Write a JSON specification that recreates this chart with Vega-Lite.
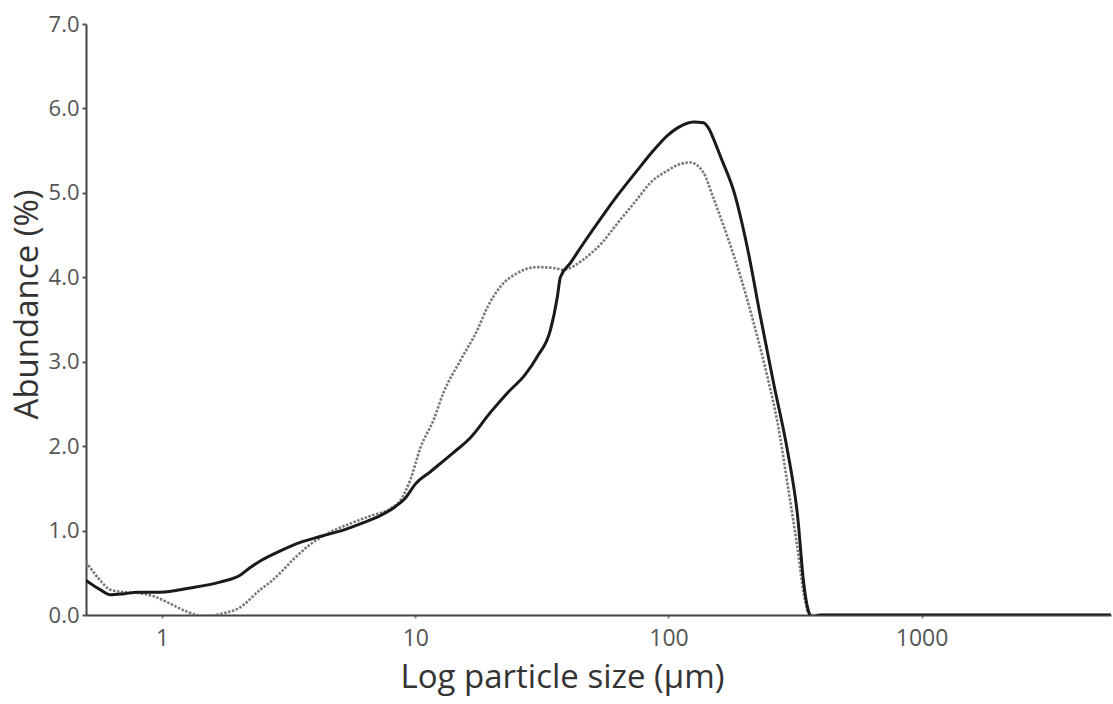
{
  "$schema": "https://vega.github.io/schema/vega-lite/v6.json",
  "width": 1025,
  "height": 591,
  "autosize": {"type": "none"},
  "padding": {"left": 86, "top": 24, "right": 2, "bottom": 89},
  "background": "white",
  "config": {
    "view": {"stroke": null},
    "font": "Open Sans",
    "axis": {"grid": false}
  },
  "datasets": {
    "curves": [
      {"size": 0.5, "abundance": 0.41, "series": "solid"},
      {"size": 0.569, "abundance": 0.30, "series": "solid"},
      {"size": 0.623, "abundance": 0.24, "series": "solid"},
      {"size": 0.70, "abundance": 0.25, "series": "solid"},
      {"size": 0.80, "abundance": 0.27, "series": "solid"},
      {"size": 0.98, "abundance": 0.27, "series": "solid"},
      {"size": 1.29, "abundance": 0.32, "series": "solid"},
      {"size": 1.69, "abundance": 0.39, "series": "solid"},
      {"size": 2.03, "abundance": 0.47, "series": "solid"},
      {"size": 2.2, "abundance": 0.55, "series": "solid"},
      {"size": 2.44, "abundance": 0.64, "series": "solid"},
      {"size": 2.93, "abundance": 0.76, "series": "solid"},
      {"size": 3.51, "abundance": 0.86, "series": "solid"},
      {"size": 4.2, "abundance": 0.93, "series": "solid"},
      {"size": 5.0, "abundance": 0.99, "series": "solid"},
      {"size": 6.06, "abundance": 1.08, "series": "solid"},
      {"size": 7.3, "abundance": 1.18, "series": "solid"},
      {"size": 8.3, "abundance": 1.28, "series": "solid"},
      {"size": 9.1, "abundance": 1.38, "series": "solid"},
      {"size": 10.0, "abundance": 1.55, "series": "solid"},
      {"size": 11.5, "abundance": 1.70, "series": "solid"},
      {"size": 14.1, "abundance": 1.92, "series": "solid"},
      {"size": 16.5, "abundance": 2.10, "series": "solid"},
      {"size": 19.8, "abundance": 2.40, "series": "solid"},
      {"size": 23.1, "abundance": 2.63, "series": "solid"},
      {"size": 27.2, "abundance": 2.85, "series": "solid"},
      {"size": 30.3, "abundance": 3.06, "series": "solid"},
      {"size": 34.2, "abundance": 3.38, "series": "solid"},
      {"size": 36.4, "abundance": 3.77, "series": "solid"},
      {"size": 37.4, "abundance": 4.0, "series": "solid"},
      {"size": 41.0, "abundance": 4.17, "series": "solid"},
      {"size": 46.1, "abundance": 4.40, "series": "solid"},
      {"size": 55.3, "abundance": 4.74, "series": "solid"},
      {"size": 62.9, "abundance": 4.97, "series": "solid"},
      {"size": 75, "abundance": 5.26, "series": "solid"},
      {"size": 84.9, "abundance": 5.46, "series": "solid"},
      {"size": 100, "abundance": 5.69, "series": "solid"},
      {"size": 108.6, "abundance": 5.77, "series": "solid"},
      {"size": 125.6, "abundance": 5.84, "series": "solid"},
      {"size": 137.5, "abundance": 5.83, "series": "solid"},
      {"size": 145, "abundance": 5.75, "series": "solid"},
      {"size": 150.6, "abundance": 5.64, "series": "solid"},
      {"size": 161, "abundance": 5.42, "series": "solid"},
      {"size": 182, "abundance": 5.0, "series": "solid"},
      {"size": 205, "abundance": 4.35, "series": "solid"},
      {"size": 231, "abundance": 3.53, "series": "solid"},
      {"size": 260, "abundance": 2.75, "series": "solid"},
      {"size": 295, "abundance": 1.95, "series": "solid"},
      {"size": 324, "abundance": 1.16, "series": "solid"},
      {"size": 342, "abundance": 0.38, "series": "solid"},
      {"size": 357, "abundance": 0.05, "series": "solid"},
      {"size": 368, "abundance": -0.02, "series": "solid"},
      {"size": 400, "abundance": 0.0, "series": "solid"},
      {"size": 600, "abundance": 0.0, "series": "solid"},
      {"size": 1000, "abundance": 0.0, "series": "solid"},
      {"size": 2000, "abundance": 0.0, "series": "solid"},
      {"size": 5600, "abundance": 0.0, "series": "solid"},
      {"size": 0.5, "abundance": 0.63, "series": "dotted"},
      {"size": 0.569, "abundance": 0.41, "series": "dotted"},
      {"size": 0.623, "abundance": 0.30, "series": "dotted"},
      {"size": 0.72, "abundance": 0.27, "series": "dotted"},
      {"size": 0.80, "abundance": 0.26, "series": "dotted"},
      {"size": 0.93, "abundance": 0.22, "series": "dotted"},
      {"size": 1.05, "abundance": 0.15, "series": "dotted"},
      {"size": 1.25, "abundance": 0.04, "series": "dotted"},
      {"size": 1.45, "abundance": -0.01, "series": "dotted"},
      {"size": 1.74, "abundance": 0.02, "series": "dotted"},
      {"size": 2.03, "abundance": 0.09, "series": "dotted"},
      {"size": 2.44, "abundance": 0.30, "series": "dotted"},
      {"size": 2.7, "abundance": 0.40, "series": "dotted"},
      {"size": 2.93, "abundance": 0.50, "series": "dotted"},
      {"size": 3.3, "abundance": 0.66, "series": "dotted"},
      {"size": 3.9, "abundance": 0.85, "series": "dotted"},
      {"size": 4.6, "abundance": 0.98, "series": "dotted"},
      {"size": 5.5, "abundance": 1.08, "series": "dotted"},
      {"size": 6.6, "abundance": 1.17, "series": "dotted"},
      {"size": 7.96, "abundance": 1.26, "series": "dotted"},
      {"size": 8.73, "abundance": 1.36, "series": "dotted"},
      {"size": 9.55, "abundance": 1.60, "series": "dotted"},
      {"size": 10.5, "abundance": 1.99, "series": "dotted"},
      {"size": 11.8, "abundance": 2.31, "series": "dotted"},
      {"size": 12.9, "abundance": 2.63, "series": "dotted"},
      {"size": 15.1, "abundance": 3.02, "series": "dotted"},
      {"size": 17.6, "abundance": 3.38, "series": "dotted"},
      {"size": 19.3, "abundance": 3.65, "series": "dotted"},
      {"size": 21.7, "abundance": 3.89, "series": "dotted"},
      {"size": 25.3, "abundance": 4.05, "series": "dotted"},
      {"size": 30.3, "abundance": 4.12, "series": "dotted"},
      {"size": 35.1, "abundance": 4.11, "series": "dotted"},
      {"size": 38.4, "abundance": 4.09, "series": "dotted"},
      {"size": 46.1, "abundance": 4.21, "series": "dotted"},
      {"size": 55, "abundance": 4.42, "series": "dotted"},
      {"size": 62.9, "abundance": 4.64, "series": "dotted"},
      {"size": 75, "abundance": 4.92, "series": "dotted"},
      {"size": 84.9, "abundance": 5.12, "series": "dotted"},
      {"size": 100, "abundance": 5.27, "series": "dotted"},
      {"size": 108.6, "abundance": 5.33, "series": "dotted"},
      {"size": 122, "abundance": 5.36, "series": "dotted"},
      {"size": 137.5, "abundance": 5.24, "series": "dotted"},
      {"size": 150, "abundance": 4.95, "series": "dotted"},
      {"size": 171, "abundance": 4.48, "series": "dotted"},
      {"size": 193, "abundance": 4.0, "series": "dotted"},
      {"size": 217, "abundance": 3.46, "series": "dotted"},
      {"size": 246, "abundance": 2.82, "series": "dotted"},
      {"size": 270, "abundance": 2.27, "series": "dotted"},
      {"size": 295, "abundance": 1.56, "series": "dotted"},
      {"size": 324, "abundance": 0.77, "series": "dotted"},
      {"size": 342, "abundance": 0.26, "series": "dotted"},
      {"size": 354, "abundance": 0.05, "series": "dotted"},
      {"size": 365, "abundance": 0.0, "series": "dotted"},
      {"size": 400, "abundance": 0.0, "series": "dotted"},
      {"size": 600, "abundance": 0.0, "series": "dotted"},
      {"size": 1000, "abundance": 0.0, "series": "dotted"},
      {"size": 2000, "abundance": 0.0, "series": "dotted"},
      {"size": 5600, "abundance": 0.0, "series": "dotted"}
    ]
  },
  "data": {"name": "curves"},
  "encoding": {
    "x": {
      "field": "size",
      "type": "quantitative",
      "scale": {"type": "log", "domain": [0.5, 5600], "nice": false},
      "axis": {
        "title": "Log particle size (μm)",
        "values": [1, 10, 100, 1000],
        "format": "d",
        "domainColor": "#444",
        "domainWidth": 2,
        "tickColor": "#888",
        "tickSize": 3,
        "tickWidth": 2,
        "labelFontSize": 23,
        "labelColor": "#555",
        "labelPadding": 9,
        "titleFontSize": 33,
        "titleFontWeight": "normal",
        "titleColor": "#333",
        "titleX": 476,
        "titlePadding": 11
      }
    },
    "y": {
      "field": "abundance",
      "type": "quantitative",
      "scale": {"domain": [0, 7], "nice": false, "clamp": false},
      "axis": {
        "title": "Abundance (%)",
        "values": [0, 1, 2, 3, 4, 5, 6, 7],
        "format": ".1f",
        "domainColor": "#444",
        "domainWidth": 2,
        "tickColor": "#555",
        "tickSize": 4,
        "tickWidth": 2,
        "labelFontSize": 22,
        "labelColor": "#555",
        "labelPadding": 3,
        "titleFontSize": 33,
        "titleFontWeight": "normal",
        "titleColor": "#333",
        "titleY": 280,
        "titlePadding": 4
      }
    }
  },
  "layer": [
    {
      "transform": [{"filter": "datum.series === 'dotted'"}],
      "mark": {"type": "line", "interpolate": "monotone", "color": "#7a7a7a", "strokeWidth": 2.6, "strokeDash": [2.5, 1.5], "clip": true},
      "encoding": {}
    },
    {
      "transform": [{"filter": "datum.series === 'solid'"}],
      "mark": {"type": "line", "interpolate": "monotone", "color": "#1a1a1a", "strokeWidth": 3, "clip": true},
      "encoding": {}
    }
  ]
}
